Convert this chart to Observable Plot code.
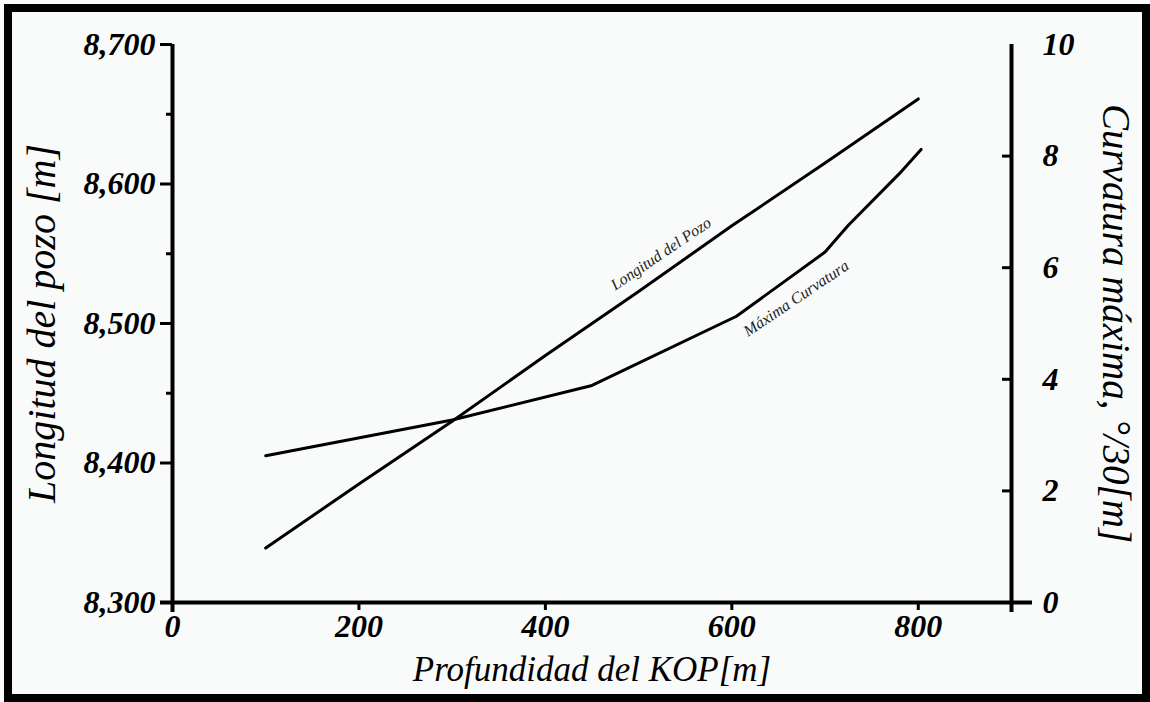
<!DOCTYPE html>
<html><head><meta charset="utf-8">
<script src="https://cdn.jsdelivr.net/npm/d3@7"></script>
<script src="https://cdn.jsdelivr.net/npm/@observablehq/plot@0.6"></script>
<style>
html,body{margin:0;padding:0;background:#f9fafa;width:1150px;height:702px;overflow:hidden}
#chart{position:absolute;left:0;top:0}
#frame{position:absolute;left:4px;top:4px;width:1146px;height:698px;border:8px solid #000;box-sizing:border-box;pointer-events:none}
</style></head><body>
<div id="chart"></div><div id="frame"></div>
<script>
// KOP depth (m)
const kopDepth = [100, 200, 300, 400, 500, 600, 700, 800];
// Well length (m) - left axis
const wellLength = [8339, 8385, 8430, 8477, 8523, 8570, 8615, 8661];
// Max curvature (deg/30 m) - right axis
const curvDepth = [100, 300, 450, 605, 700, 725, 780, 803];
const maxCurvature = [2.63, 3.27, 3.89, 5.13, 6.28, 6.76, 7.69, 8.12];

const xTicks = [0, 200, 400, 600, 800];
const yTicks = [8300, 8400, 8500, 8600, 8700];
const yMinorTicks = [8450, 8550, 8650];
const curvTicks = [0, 2, 4, 6, 8, 10];
const curvTickMarks = [2, 4, 6, 8];

const seriesNames = ["Longitud del Pozo", "Máxima Curvatura"];
const labelDepth = [524, 669];
const labelValueLeft = 8550;   // well length units
const labelValueRight = 5.45;  // curvature units

const xTitle = "Profundidad del KOP[m]";
const yTitle = "Longitud del pozo [m]";
const y2Title = "Curvatura máxima, °/30[m]";

// right axis (0..10) mapped onto left axis (8300..8700)
const toLeft = v => 8300 + 40 * v;
const fromLeft = d => (d - 8300) / 40;

const wellData = kopDepth.map((x, i) => ({x, y: wellLength[i]}));
const curvData = curvDepth.map((x, i) => ({x, y: toLeft(maxCurvature[i])}));
const labelData = [
  {x: labelDepth[0], y: labelValueLeft, t: seriesNames[0]},
  {x: labelDepth[1], y: toLeft(labelValueRight), t: seriesNames[1]}
];

const tickFont = {fontSize: 32, fontWeight: "bold"};

const plot = Plot.plot({
  width: 1150, height: 702,
  marginLeft: 172, marginRight: 139, marginTop: 44, marginBottom: 100,
  style: {background: "transparent", fontFamily: "'Liberation Serif', serif", fontStyle: "italic", color: "#000", overflow: "visible"},
  x: {domain: [0, 900]},
  y: {domain: [8300, 8700]},
  marks: [
    Plot.ruleY([8300], {insetLeft: -12, insetRight: -21, strokeWidth: 4}),
    Plot.ruleX([0, 900], {insetBottom: -10, strokeWidth: 4}),
    Plot.axisX(xTicks, {tickSize: 8, strokeWidth: 3, tickPadding: 4, ...tickFont, label: null}),
    Plot.axisY(yTicks, {anchor: "left", tickSize: 12, strokeWidth: 3, tickPadding: 5, ...tickFont, tickFormat: d3.format(","), label: null}),
    Plot.axisY(yMinorTicks, {anchor: "left", tickSize: 6, strokeWidth: 3, tickFormat: () => "", label: null}),
    Plot.axisY(curvTickMarks.map(toLeft), {anchor: "right", tickSize: 10, dx: -10, strokeWidth: 3, tickFormat: () => "", label: null}),
    Plot.axisY(curvTicks.map(toLeft), {anchor: "right", tickSize: 0, tickPadding: 31, ...tickFont, tickFormat: d => String(Math.round(fromLeft(d))), label: null}),
    Plot.line(wellData, {x: "x", y: "y", stroke: "#000", strokeWidth: 3}),
    Plot.line(curvData, {x: "x", y: "y", stroke: "#000", strokeWidth: 3}),
    Plot.text(labelData, {x: "x", y: "y", text: "t", rotate: -34, fontSize: 16, fill: "#222"}),
    Plot.text([xTitle], {frameAnchor: "bottom", textAnchor: "middle", lineAnchor: "middle", dy: 67, fontSize: 35}),
    Plot.text([yTitle], {frameAnchor: "left", textAnchor: "middle", lineAnchor: "middle", rotate: -90, dx: -130, fontSize: 40}),
    Plot.text([y2Title], {frameAnchor: "right", textAnchor: "middle", lineAnchor: "middle", rotate: 90, dx: 104, fontSize: 39})
  ]
});
document.getElementById("chart").appendChild(plot);
</script>
</body></html>
